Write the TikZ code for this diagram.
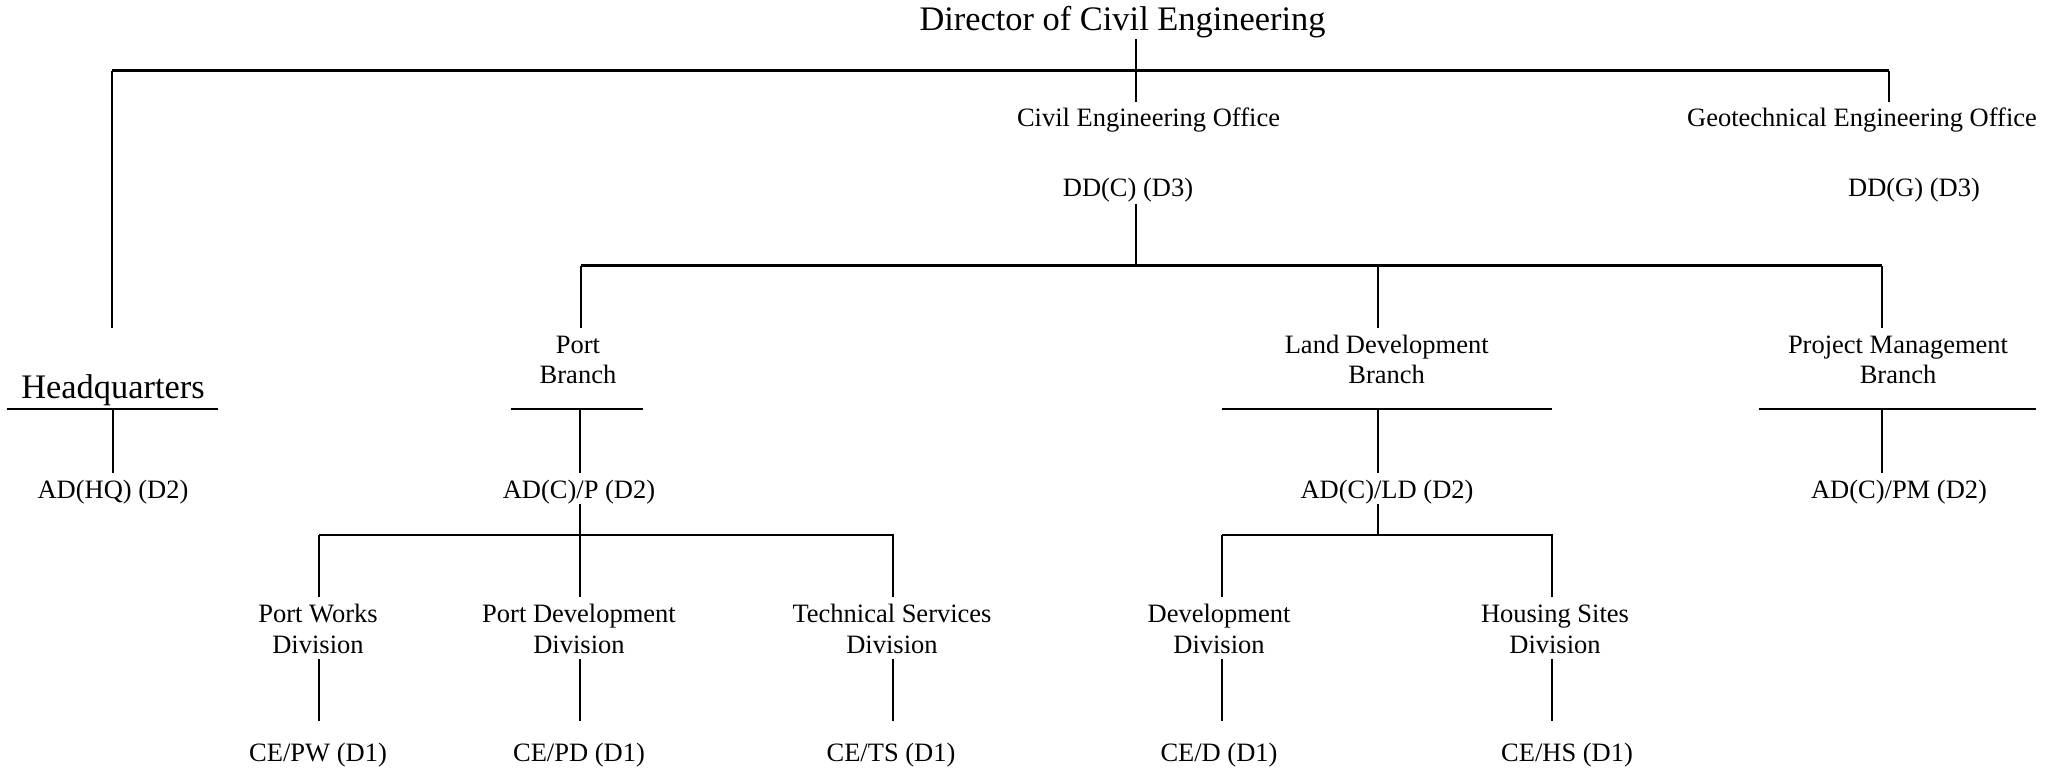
\documentclass[tikz,border=0pt]{standalone}
\usepackage{fontspec}
\setmainfont{Liberation Serif}
\begin{document}
\begin{tikzpicture}[x=0.5pt,y=-0.5pt,
  lbl/.style={anchor=base,inner sep=0pt,font=\fontsize{13.25}{15.5}\selectfont,align=center},
  big/.style={anchor=base,inner sep=0pt,font=\fontsize{17.2}{20}\selectfont},
  bar/.style={line width=1.2pt},
  vline/.style={line width=0.9pt}]
\useasboundingbox (0,0) rectangle (2062,770);
% ---- text nodes (two-line nodes are placed by the baseline of their last line)
\node[big] (dir) at (1122.5,31) {Director of Civil Engineering};
\node[lbl] (ceo) at (1148.5,126.7) {Civil Engineering Office};
\node[lbl] (geo) at (1862,126.7) {Geotechnical Engineering Office};
\node[lbl] (ddc) at (1128,196.5) {DD(C) (D3)};
\node[lbl] (ddg) at (1914,196.5) {DD(G) (D3)};
\node[big] (hq) at (113,398.3) {Headquarters};
\node[lbl] (pb) at (578,384) {Port\\Branch};
\node[lbl] (ldb) at (1386.7,384) {Land Development\\Branch};
\node[lbl] (pmb) at (1898,384) {Project Management\\Branch};
\node[lbl] (adhq) at (113,498.3) {AD(HQ) (D2)};
\node[lbl] (adp) at (579,498.3) {AD(C)/P (D2)};
\node[lbl] (adld) at (1387,498.3) {AD(C)/LD (D2)};
\node[lbl] (adpm) at (1899,498.3) {AD(C)/PM (D2)};
\node[lbl] (pw) at (318,653.3) {Port Works\\Division};
\node[lbl] (pd) at (579,653.3) {Port Development\\Division};
\node[lbl] (ts) at (892,653.3) {Technical Services\\Division};
\node[lbl] (dv) at (1219,653.3) {Development\\Division};
\node[lbl] (hs) at (1555,653.3) {Housing Sites\\Division};
\node[lbl] (cepw) at (318,761) {CE/PW (D1)};
\node[lbl] (cepd) at (579,761) {CE/PD (D1)};
\node[lbl] (cets) at (891,761) {CE/TS (D1)};
\node[lbl] (ced) at (1219,761) {CE/D (D1)};
\node[lbl] (cehs) at (1567,761) {CE/HS (D1)};
% ---- junction coordinates
\coordinate (dirB) at (1136,39.3);
\coordinate (ceoT) at (1136,101.7);
\coordinate (barL) at (112,70.7);
\coordinate (barR) at (1889,70.7);
\coordinate (geoT) at (1889,101.7);
\coordinate (hqT) at (112,327.7);
\coordinate (ddcB) at (1136,204);
\coordinate (ddcJ) at (1136,265.7);
\coordinate (b2L) at (581,265.7);
\coordinate (b2M) at (1378,265.7);
\coordinate (b2R) at (1882,265.7);
\coordinate (pbT) at (581,327.7);
\coordinate (ldT) at (1378,327.7);
\coordinate (pmT) at (1882,327.7);
\coordinate (hqUL) at (7,409);   \coordinate (hqUR) at (218,409);
\coordinate (pbUL) at (511,409); \coordinate (pbUR) at (643,409);
\coordinate (ldUL) at (1222,409); \coordinate (ldUR) at (1552,409);
\coordinate (pmUL) at (1758.6,409); \coordinate (pmUR) at (2036,409);
\coordinate (hqU) at (113,409);  \coordinate (adhqT) at (113,472.7);
\coordinate (pbU) at (580,409);  \coordinate (adpT) at (580,472.7);
\coordinate (ldU) at (1378,409); \coordinate (adldT) at (1378,472.7);
\coordinate (pmU) at (1882,409); \coordinate (adpmT) at (1882,472.7);
\coordinate (adpB) at (580,504);  \coordinate (b3M) at (580,535);
\coordinate (b3L) at (319,535);   \coordinate (b3R) at (894,535);
\coordinate (adldB) at (1378,504); \coordinate (b4M) at (1378,535);
\coordinate (b4L) at (1222,535);  \coordinate (b4R) at (1553,535);
\coordinate (pwT) at (319,597); \coordinate (pdT) at (580,597); \coordinate (tsT) at (893,597);
\coordinate (dvT) at (1222,597); \coordinate (hsT) at (1552,597);
\coordinate (pwB) at (319,659); \coordinate (cepwT) at (319,720.7);
\coordinate (pdB) at (580,659); \coordinate (cepdT) at (580,720.7);
\coordinate (tsB) at (893,659); \coordinate (cetsT) at (893,720.7);
\coordinate (dvB) at (1222,659); \coordinate (cedT) at (1222,720.7);
\coordinate (hsB) at (1552,659); \coordinate (cehsT) at (1552,720.7);
% ---- connectors
\draw[vline] (dirB) -- (ceoT);
\draw[bar] (barL) -- (barR);
\draw[vline] (barL) -- (hqT);
\draw[vline] (barR) -- (geoT);
\draw[vline] (ddcB) -- (ddcJ);
\draw[bar] (b2L) -- (b2R);
\draw[vline] (b2L) -- (pbT);
\draw[vline] (b2M) -- (ldT);
\draw[vline] (b2R) -- (pmT);
\draw[bar] (hqUL) -- (hqUR);
\draw[bar] (pbUL) -- (pbUR);
\draw[bar] (ldUL) -- (ldUR);
\draw[bar] (pmUL) -- (pmUR);
\draw[vline] (hqU) -- (adhqT);
\draw[vline] (pbU) -- (adpT);
\draw[vline] (ldU) -- (adldT);
\draw[vline] (pmU) -- (adpmT);
\draw[vline] (adpB) -- (b3M);
\draw[bar] (b3L) -- (b3R);
\draw[vline] (adldB) -- (b4M);
\draw[bar] (b4L) -- (b4R);
\draw[vline] (b3L) -- (pwT);
\draw[vline] (b3M) -- (pdT);
\draw[vline] (b3R) ++(-1,0) -- (tsT);
\draw[vline] (b4L) -- (dvT);
\draw[vline] (b4R) ++(-1,0) -- (hsT);
\draw[vline] (pwB) -- (cepwT);
\draw[vline] (pdB) -- (cepdT);
\draw[vline] (tsB) -- (cetsT);
\draw[vline] (dvB) -- (cedT);
\draw[vline] (hsB) -- (cehsT);
\end{tikzpicture}
\end{document}
